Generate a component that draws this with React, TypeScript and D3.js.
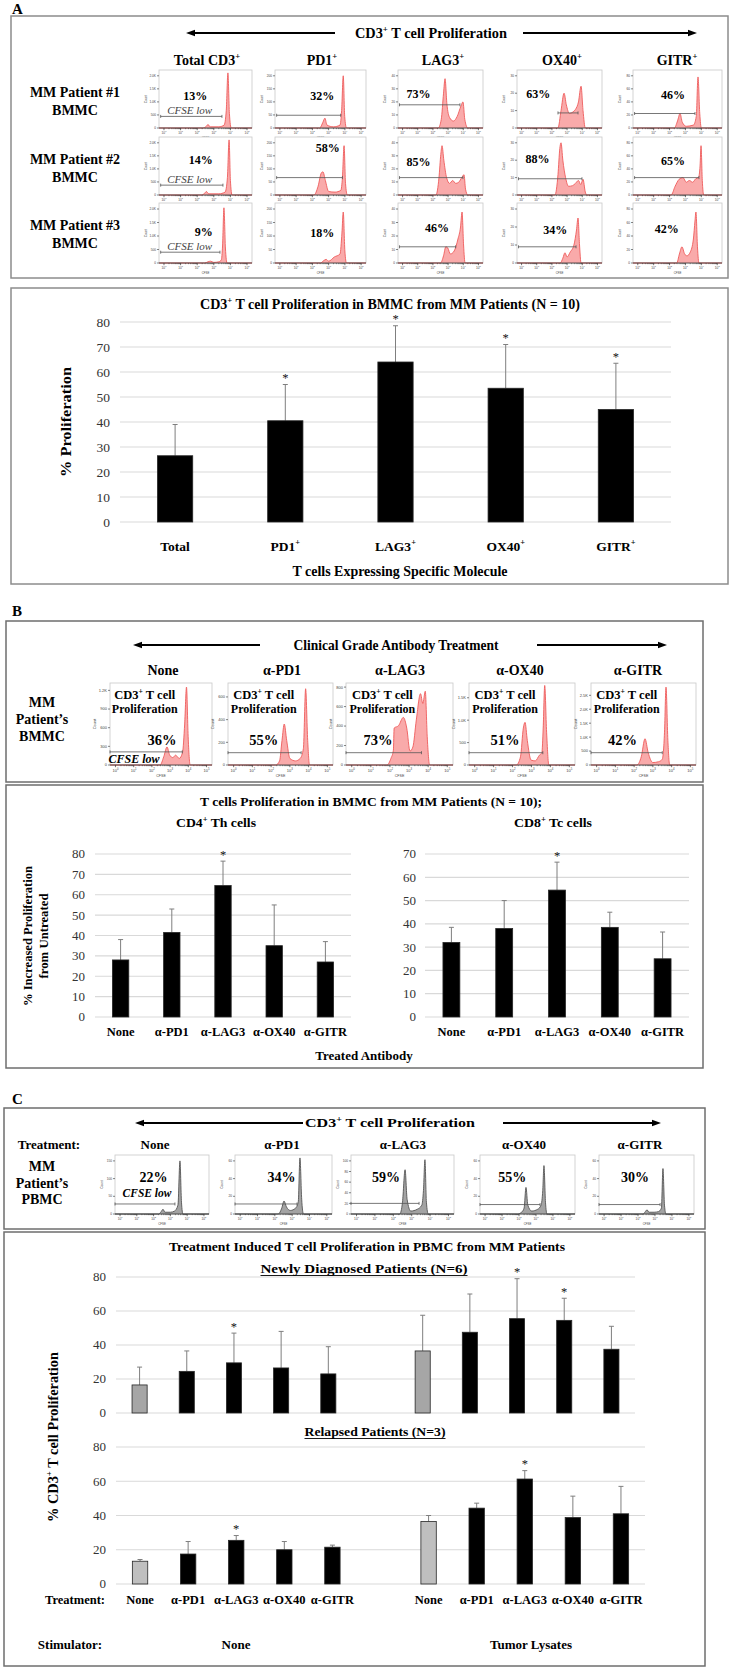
import React from 'react';
import * as d3 from 'd3';

const SERIF = "'Liberation Serif', 'Times New Roman', Times, serif";
const SANS = "'Liberation Sans', Arial, sans-serif";

// ---------- Panel A: CFSE histograms (3 patients x 5 subsets) ----------
const A_COLS = ['Total CD3^+', 'PD1^+', 'LAG3^+', 'OX40^+', 'GITR^+'];
const A_ROWS = [['MM Patient #1', 'BMMC'], ['MM Patient #2', 'BMMC'], ['MM Patient #3', 'BMMC']];
const A_PCT = [
  ['13%', '32%', '73%', '63%', '46%'],
  ['14%', '58%', '85%', '88%', '65%'],
  ['9%', '18%', '46%', '34%', '42%'],
];
const A_YTICKS = [
  ['0', '500', '1.0K', '1.5K', '2.0K'],
  ['0', '50', '100', '150', '200'],
  ['0', '10', '20', '30', '40'],
  ['0', '10', '20', '30'],
  ['0', '20', '40', '60', '80'],
];
// outline points: [log10 CFSE, fraction of frame height]
const A_HIST = [
  [
    [[-0.3, 0], [2.35, 0], [2.55, 0.03], [2.65, 0.06], [2.78, 0.02], [3.3, 0.02], [3.62, 0.05], [3.75, 0.3], [3.85, 0.95], [3.94, 0.25], [4.05, 0], [5.3, 0]],
    [[-0.3, 0], [2.45, 0], [2.65, 0.1], [2.77, 0.17], [2.9, 0.05], [3.3, 0.02], [3.7, 0.05], [3.8, 0.3], [3.9, 0.9], [3.99, 0.2], [4.1, 0], [5.3, 0]],
    [[-0.3, 0], [2.35, 0], [2.55, 0.15], [2.7, 0.6], [2.8, 0.85], [2.92, 0.42], [3.1, 0.18], [3.35, 0.12], [3.6, 0.2], [3.85, 0.38], [3.98, 0.45], [4.1, 0.15], [4.3, 0], [5.3, 0]],
    [[-0.3, 0], [2.4, 0], [2.6, 0.3], [2.8, 0.6], [2.95, 0.4], [3.15, 0.25], [3.4, 0.28], [3.55, 0.32], [3.75, 0.45], [3.92, 0.72], [4.05, 0.3], [4.2, 0], [5.3, 0]],
    [[-0.3, 0], [2.3, 0], [2.5, 0.12], [2.66, 0.25], [2.8, 0.1], [3.05, 0.03], [3.5, 0.05], [3.68, 0.2], [3.79, 0.88], [3.9, 0.25], [4.0, 0], [5.3, 0]],
  ],
  [
    [[-0.3, 0], [2.25, 0], [2.45, 0.03], [2.55, 0.06], [2.7, 0.02], [3.3, 0.02], [3.68, 0.05], [3.82, 0.3], [3.92, 0.95], [4.0, 0.25], [4.1, 0], [5.3, 0]],
    [[-0.3, 0], [2.1, 0], [2.35, 0.15], [2.55, 0.38], [2.65, 0.4], [2.8, 0.25], [3.0, 0.06], [3.4, 0.05], [3.75, 0.08], [3.85, 0.3], [3.95, 0.85], [4.04, 0.2], [4.15, 0], [5.3, 0]],
    [[-0.3, 0], [2.2, 0], [2.4, 0.3], [2.52, 0.7], [2.6, 0.85], [2.72, 0.6], [2.9, 0.3], [3.1, 0.2], [3.3, 0.25], [3.5, 0.2], [3.7, 0.22], [3.9, 0.3], [4.05, 0.35], [4.15, 0.1], [4.3, 0], [5.3, 0]],
    [[-0.3, 0], [2.2, 0], [2.4, 0.35], [2.52, 0.8], [2.6, 0.9], [2.72, 0.6], [2.9, 0.3], [3.1, 0.15], [3.35, 0.16], [3.55, 0.2], [3.75, 0.25], [3.9, 0.18], [4.05, 0.27], [4.2, 0.05], [4.3, 0], [5.3, 0]],
    [[-0.3, 0], [2.1, 0], [2.35, 0.15], [2.6, 0.27], [2.85, 0.3], [3.05, 0.22], [3.25, 0.25], [3.45, 0.22], [3.65, 0.28], [3.82, 0.3], [3.92, 0.5], [3.98, 0.85], [4.06, 0.25], [4.15, 0], [5.3, 0]],
  ],
  [
    [[-0.3, 0], [2.45, 0], [2.65, 0.02], [2.8, 0.03], [3.0, 0.01], [3.3, 0.02], [3.45, 0.05], [3.53, 0.3], [3.61, 0.92], [3.7, 0.25], [3.8, 0], [5.3, 0]],
    [[-0.3, 0], [2.5, 0], [2.7, 0.04], [2.85, 0.06], [3.0, 0.03], [3.35, 0.1], [3.7, 0.15], [3.82, 0.5], [3.9, 0.85], [4.0, 0.2], [4.1, 0], [5.3, 0]],
    [[-0.3, 0], [2.5, 0], [2.7, 0.12], [2.85, 0.27], [2.98, 0.25], [3.15, 0.15], [3.4, 0.2], [3.65, 0.4], [3.82, 0.6], [3.92, 0.85], [4.02, 0.3], [4.12, 0], [5.3, 0]],
    [[-0.3, 0], [2.55, 0], [2.72, 0.08], [2.86, 0.17], [3.0, 0.1], [3.2, 0.18], [3.45, 0.3], [3.62, 0.55], [3.72, 0.75], [3.82, 0.3], [3.92, 0], [5.3, 0]],
    [[-0.3, 0], [2.45, 0], [2.62, 0.15], [2.78, 0.27], [2.95, 0.15], [3.1, 0.12], [3.3, 0.18], [3.5, 0.4], [3.6, 0.7], [3.66, 0.85], [3.76, 0.25], [3.85, 0], [5.3, 0]],
  ],
];
// gate: [from, to, height]
const A_GATE = [
  [[-0.2, 3.49, 0.2], [-0.2, 3.74, 0.22], [-0.2, 3.78, 0.4], [2.4, 3.72, 0.26], [-0.2, 3.6, 0.25]],
  [[-0.2, 3.55, 0.17], [-0.2, 3.85, 0.3], [-0.2, 3.98, 0.3], [-0.2, 3.98, 0.28], [-0.2, 3.85, 0.3]],
  [[-0.2, 3.37, 0.18], null, [-0.2, 3.5, 0.27], [-0.2, 3.59, 0.27], null],
];

// ---------- Panel A: bar chart ----------
const A_BAR_CATS = ['Total', 'PD1^+', 'LAG3^+', 'OX40^+', 'GITR^+'];
const A_BAR_MEAN = [26.5, 40.5, 64, 53.5, 45];
const A_BAR_ERR = [39, 55, 78.5, 71, 63.5];
const A_BAR_STAR = [false, true, true, true, true];

// ---------- Panel B ----------
const B_TREAT = ['None', 'α-PD1', 'α-LAG3', 'α-OX40', 'α-GITR'];
const B_PCT = ['36%', '55%', '73%', '51%', '42%'];
const B_YTICKS = [
  ['0', '300', '600', '900', '1.2K'],
  ['0', '200', '400', '600'],
  ['0', '200', '400', '600', '800'],
  ['0', '500', '1.0K', '1.5K'],
  ['0', '500', '1.0K', '1.5K', '2.0K', '2.5K'],
];
const B_YTOP = [0.91, 0.83, 0.95, 0.82, 0.85];
const B_HIST = [
  [[-0.3, 0], [2.45, 0], [2.65, 0.1], [2.83, 0.22], [2.98, 0.12], [3.15, 0.09], [3.3, 0.12], [3.5, 0.08], [3.68, 0.15], [3.8, 0.5], [3.9, 0.95], [3.99, 0.35], [4.1, 0], [5.3, 0]],
  [[-0.3, 0], [2.25, 0], [2.45, 0.05], [2.58, 0.3], [2.7, 0.5], [2.83, 0.3], [3.0, 0.08], [3.3, 0.05], [3.55, 0.08], [3.72, 0.2], [3.84, 0.93], [3.95, 0.3], [4.05, 0], [5.3, 0]],
  [[-0.3, 0], [1.85, 0], [2.05, 0.08], [2.18, 0.18], [2.22, 0.45], [2.45, 0.48], [2.7, 0.58], [2.88, 0.45], [3.05, 0.17], [3.2, 0.22], [3.38, 0.55], [3.6, 0.87], [3.72, 0.75], [3.85, 0.9], [3.95, 0.35], [4.08, 0], [5.3, 0]],
  [[-0.3, 0], [2.2, 0], [2.42, 0.1], [2.57, 0.45], [2.66, 0.52], [2.78, 0.3], [2.98, 0.06], [3.2, 0.05], [3.42, 0.12], [3.55, 0.15], [3.62, 0.45], [3.7, 0.97], [3.8, 0.4], [3.92, 0], [5.3, 0]],
  [[-0.3, 0], [2.15, 0], [2.38, 0.1], [2.58, 0.32], [2.75, 0.15], [3.0, 0.03], [3.3, 0.04], [3.5, 0.07], [3.62, 0.4], [3.7, 0.95], [3.8, 0.3], [3.9, 0], [5.3, 0]],
];
const B_GATE = [[-0.3, 3.67, 0.16], [-0.3, 3.6, 0.15], [-0.3, 3.65, 0.15], [-0.3, 3.6, 0.15], [-0.3, 3.5, 0.15]];
const B_CD4_MEAN = [28, 41.5, 64.5, 35, 27];
const B_CD4_ERR = [38, 53, 76.5, 55, 37];
const B_CD4_STAR = [false, false, true, false, false];
const B_CD8_MEAN = [32, 38, 54.5, 38.5, 25];
const B_CD8_ERR = [38.5, 50, 66.5, 45, 36.5];
const B_CD8_STAR = [false, false, true, false, false];

// ---------- Panel C ----------
const C_TREAT = ['None', 'α-PD1', 'α-LAG3', 'α-OX40', 'α-GITR'];
const C_PCT = ['22%', '34%', '59%', '55%', '30%'];
const C_YTICKS = [
  ['0', '50', '100', '150'],
  ['0', '20', '40', '60'],
  ['0', '20', '40', '60', '80', '100'],
  ['0', '20', '40', '60'],
  ['0', '20', '40', '60'],
];
const C_HIST = [
  [[-0.3, 0], [2.3, 0], [2.45, 0.04], [2.56, 0.08], [2.68, 0.03], [3.0, 0.03], [3.25, 0.05], [3.45, 0.15], [3.57, 0.9], [3.66, 0.2], [3.75, 0], [5.3, 0]],
  [[-0.3, 0], [2.2, 0], [2.4, 0.1], [2.53, 0.22], [2.67, 0.12], [2.9, 0.06], [3.2, 0.1], [3.35, 0.2], [3.45, 0.95], [3.55, 0.25], [3.65, 0], [5.3, 0]],
  [[-0.3, 0], [2.35, 0], [2.5, 0.2], [2.64, 0.75], [2.75, 0.25], [2.95, 0.05], [3.3, 0.08], [3.55, 0.15], [3.64, 0.4], [3.72, 0.92], [3.8, 0.2], [3.9, 0], [5.3, 0]],
  [[-0.3, 0], [1.9, 0], [2.15, 0.03], [2.3, 0.1], [2.41, 0.45], [2.52, 0.15], [2.75, 0.05], [3.1, 0.08], [3.3, 0.15], [3.4, 0.4], [3.47, 0.82], [3.56, 0.2], [3.65, 0], [5.3, 0]],
  [[-0.3, 0], [2.3, 0], [2.43, 0.04], [2.53, 0.07], [2.65, 0.03], [2.95, 0.03], [3.2, 0.04], [3.38, 0.1], [3.47, 0.77], [3.56, 0.15], [3.65, 0], [5.3, 0]],
];
const C_GATE = [[-0.3, 3.27, 0.17], [-0.3, 3.28, 0.17], [-0.3, 3.4, 0.18], [-0.3, 3.24, 0.16], [-0.3, 3.3, 0.16]];
const C_STIM = ['None', 'Tumor Lysates'];
// first five: no stimulator, last five: tumor lysates
const C_NEW_MEAN = [16.5, 24.5, 29.5, 26.5, 23, 36.5, 47.5, 55.5, 54.5, 37.5];
const C_NEW_ERR = [27, 36.5, 47, 48, 39, 57.5, 70, 79, 67.5, 51];
const C_NEW_STAR = [false, false, true, false, false, false, false, true, true, false];
const C_REL_MEAN = [13.3, 17.5, 25.5, 20, 21.5, 36.5, 44.3, 61.3, 38.8, 41];
const C_REL_ERR = [14.3, 24.8, 28.3, 24.8, 22.7, 40, 47.2, 66.2, 51.3, 57];
const C_REL_STAR = [false, false, true, false, false, false, false, true, false, false];

// text with ^x superscripts
function rich(s: string, fs: number) {
  const parts = s.split(/\^(.)/);
  const out: any[] = [];
  let up = false;
  parts.forEach((p, i) => {
    if (p === '') return;
    if (i % 2 === 1) {
      out.push(<tspan key={i} dy={-fs * 0.42} fontSize={fs * 0.62}>{p}</tspan>);
      up = true;
    } else {
      out.push(<tspan key={i} dy={up ? fs * 0.42 : 0}>{p}</tspan>);
      up = false;
    }
  });
  return out;
}

function T({ x, y, s, fs = 13, w = 'bold', anchor = 'middle', len, italic, fill = '#000', rot, under }: any) {
  const props: any = { fontFamily: SERIF, fontSize: fs, fontWeight: w, textAnchor: anchor, fill };
  if (italic) props.fontStyle = 'italic';
  if (len) {
    props.textLength = len;
    props.lengthAdjust = 'spacingAndGlyphs';
  }
  if (rot) {
    return (
      <text transform={`translate(${x + fs * 0.34},${y}) rotate(-90)`} {...props}>
        {rich(s, fs)}
      </text>
    );
  }
  return (
    <g>
      <text x={x} y={y + fs * 0.34} {...props}>{rich(s, fs)}</text>
      {under ? <line x1={x - under / 2} x2={x + under / 2} y1={y + fs * 0.5} y2={y + fs * 0.5} stroke={fill} strokeWidth={0.9} /> : null}
    </g>
  );
}

function Arrow({ x1, x2, y }: any) {
  const d = x2 > x1 ? 1 : -1;
  return (
    <g>
      <line x1={x1} x2={x2 - d * 6} y1={y} y2={y} stroke="#000" strokeWidth={1.8} />
      <path d={`M${x2},${y}L${x2 - d * 9},${y - 3.2}L${x2 - d * 9},${y + 3.2}Z`} fill="#000" />
    </g>
  );
}

function Hist({ fx, fy, pts, gate, fill, stroke, yTicks, yTop = 0.9, tfs }: any) {
  const [x0, x1] = fx;
  const [y0, y1] = fy;
  const x = d3.scaleLinear().domain([-0.3, 5.3]).range([x0, x1]);
  const y = d3.scaleLinear().domain([0, 1]).range([y1, y0]);
  const area = d3.area<number[]>().x((d) => x(d[0])).y0(y1).y1((d) => y(d[1])).curve(d3.curveMonotoneX);
  const outline = d3.line<number[]>().x((d) => x(d[0])).y((d) => y(d[1])).curve(d3.curveMonotoneX);
  const minor = d3.range(0, 5).flatMap((k) => d3.range(2, 10).map((m) => k + Math.log10(m)));
  return (
    <g>
      <rect x={x0} y={y0} width={x1 - x0} height={y1 - y0} fill="#fff" stroke="#c8c8c8" strokeWidth={0.8} />
      <path d={area(pts) || ''} fill={fill} />
      <path d={outline(pts) || ''} fill="none" stroke={stroke} strokeWidth={0.9} />
      {gate ? (
        <g stroke="#555" strokeWidth={0.8}>
          <line x1={x(gate[0])} x2={x(gate[1])} y1={y(gate[2])} y2={y(gate[2])} />
          <line x1={x(gate[0])} x2={x(gate[0])} y1={y(gate[2]) - 1.5} y2={y(gate[2]) + 1.5} />
          <line x1={x(gate[1])} x2={x(gate[1])} y1={y(gate[2]) - 1.5} y2={y(gate[2]) + 1.5} />
        </g>
      ) : null}
      <line x1={x0} x2={x1} y1={y1} y2={y1} stroke="#333" strokeWidth={0.8} />
      {d3.range(6).map((k) => (
        <line key={'M' + k} x1={x(k)} x2={x(k)} y1={y1} y2={y1 + 2.2} stroke="#333" strokeWidth={0.7} />
      ))}
      {minor.map((v, i) => (
        <line key={'m' + i} x1={x(v)} x2={x(v)} y1={y1} y2={y1 + 1.2} stroke="#333" strokeWidth={0.5} />
      ))}
      {d3.range(6).map((k) => (
        <text key={'t' + k} x={x(k)} y={y1 + 2.5 + tfs} fontSize={tfs} textAnchor="middle" fontFamily={SANS} fill="#444">
          10<tspan dy={-tfs * 0.4} fontSize={tfs * 0.7}>{k}</tspan>
        </text>
      ))}
      <text x={(x0 + x1) / 2} y={y1 + 3.5 + tfs * 2.2} fontSize={tfs * 0.9} textAnchor="middle" fontFamily={SANS} fill="#444">CFSE</text>
      {yTicks.map((t: string, i: number) => {
        const v = (yTop * i) / (yTicks.length - 1);
        return (
          <g key={'y' + i}>
            <line x1={x0 - 2} x2={x0} y1={y(v)} y2={y(v)} stroke="#333" strokeWidth={0.6} />
            <text x={x0 - 3} y={y(v) + tfs * 0.35} fontSize={tfs} textAnchor="end" fontFamily={SANS} fill="#444">{t}</text>
          </g>
        );
      })}
      <text transform={`translate(${x0 - tfs * 3.6},${(y0 + y1) / 2}) rotate(-90)`} fontSize={tfs} textAnchor="middle" fontFamily={SANS} fill="#444">Count</text>
    </g>
  );
}

function BarChart({ x0, x1, yZero, yTop, max, step, nSlots, slotOf, mean, err, star, fill, labelX, fs = 13 }: any) {
  const x = d3.scaleBand<number>().domain(d3.range(nSlots)).range([x0, x1]).paddingInner(0.68).paddingOuter(0.34);
  const y = d3.scaleLinear().domain([0, max]).range([yZero, yTop]);
  const ticks = d3.range(0, max + 1e-6, step);
  return (
    <g>
      {ticks.map((t) => (
        <g key={t}>
          <line x1={x0} x2={x1} y1={y(t)} y2={y(t)} stroke="#d9d9d9" strokeWidth={1.2} />
          <text x={labelX} y={y(t) + fs * 0.34} textAnchor="end" fontFamily={SERIF} fontSize={fs} fill="#333">{t}</text>
        </g>
      ))}
      {mean.map((m: number, i: number) => {
        const bx = x(slotOf(i)) as number;
        const bw = x.bandwidth();
        const cx = bx + bw / 2;
        const ey = y(err[i]);
        return (
          <g key={i}>
            <line x1={cx} x2={cx} y1={y(m)} y2={ey} stroke="#7f7f7f" strokeWidth={1} />
            <line x1={cx - 2.5} x2={cx + 2.5} y1={ey} y2={ey} stroke="#7f7f7f" strokeWidth={1} />
            <rect x={bx} y={y(m)} width={bw} height={yZero - y(m)} fill={fill(i)} stroke="#262626" strokeWidth={0.8} />
            {star[i] ? (
              <text x={cx} y={ey - 2.5} textAnchor="middle" fontFamily={SERIF} fontSize={12.5} fill="#111">*</text>
            ) : null}
          </g>
        );
      })}
    </g>
  );
}

function bandCenters(x0: number, x1: number, n: number) {
  const x = d3.scaleBand<number>().domain(d3.range(n)).range([x0, x1]);
  return d3.range(n).map((i) => (x(i) as number) + x.bandwidth() / 2);
}

export default function App() {
  const pink = '#f9aaaa';
  const red = '#ee5b5b';
  const A_FX = [[159, 252], [275, 366], [398, 483], [517, 602], [633, 722]];
  const A_FY = [[70, 128], [137, 195], [203, 263]];
  const A_PCT_POS = [
    [[0.39, 0.45], [0.52, 0.45], [0.24, 0.41], [0.25, 0.41], [0.45, 0.43]],
    [[0.45, 0.4], [0.58, 0.19], [0.24, 0.43], [0.24, 0.38], [0.45, 0.41]],
    [[0.48, 0.48], [0.52, 0.5], [0.46, 0.42], [0.45, 0.45], [0.38, 0.43]],
  ];
  const A_HEAD_X = [207, 322, 443, 562, 677];
  const B_FX = [[110, 212], [228, 333], [346, 453], [469, 575], [591, 696]];
  const B_FY = [683, 765];
  const B_PCT_X = [0.51, 0.34, 0.3, 0.34, 0.3];
  const B_HEAD_X = [163, 282, 400, 520, 638];
  const C_FX = [[115, 209], [235, 332], [351, 454], [480, 575], [599, 694]];
  const C_FY = [1155, 1214];
  const C_PCT_X = [0.41, 0.48, 0.34, 0.34, 0.38];
  const C_HEAD_X = [155, 282, 403, 524, 640];

  const aCenters = bandCenters(120, 671, 5);
  const cd4Centers = bandCenters(95, 351, 5);
  const cd8Centers = bandCenters(425, 689, 5);
  const relCenters = bandCenters(116, 645, 11);
  const cSlot = (i: number) => (i < 5 ? i : i + 1);

  return (
    <svg width={730} height={1669} style={{ position: 'absolute', left: 0, top: 0, background: '#fff' }}>
      <rect width={730} height={1669} fill="#fff" />

      {/* ===== Panel A ===== */}
      <T x={12} y={9} s="A" fs={15} anchor="start" />
      <rect x={11} y={16} width={717} height={262} fill="none" stroke="#8c8c8c" strokeWidth={1.5} />
      <Arrow x1={335} x2={186} y={33} />
      <Arrow x1={523} x2={697} y={33} />
      <T x={431} y={33} s="CD3^+ T cell Proliferation" fs={14} len={152} />
      {A_COLS.map((c, j) => (
        <T key={c} x={A_HEAD_X[j]} y={60} s={c} fs={14} />
      ))}
      {A_ROWS.map((r, i) => (
        <g key={i}>
          <T x={75} y={A_FY[i][0] + 22} s={r[0]} fs={14} />
          <T x={75} y={A_FY[i][0] + 40} s={r[1]} fs={14} />
        </g>
      ))}
      {A_HIST.map((row, i) =>
        row.map((pts, j) => {
          const [x0, x1] = A_FX[j];
          const [y0, y1] = A_FY[i];
          const g = A_GATE[i][j];
          return (
            <g key={`a${i}${j}`}>
              <Hist fx={A_FX[j]} fy={A_FY[i]} pts={pts} gate={g} fill={pink} stroke={red} yTicks={A_YTICKS[j]} tfs={3.2} />
              <T x={x0 + A_PCT_POS[i][j][0] * (x1 - x0)} y={y0 + A_PCT_POS[i][j][1] * (y1 - y0)} s={A_PCT[i][j]} fs={12} />
              {j === 0 ? (
                <T x={x0 + 0.33 * (x1 - x0)} y={y1 - (g ? g[2] : 0.2) * (y1 - y0) - 6} s="CFSE low" fs={11} w="normal" italic fill="#444" />
              ) : null}
            </g>
          );
        })
      )}

      {/* ===== Panel A bar chart ===== */}
      <rect x={11} y={288} width={717} height={296} fill="none" stroke="#8c8c8c" strokeWidth={1.5} />
      <T x={390} y={304} s="CD3^+ T cell Proliferation in BMMC from MM Patients (N = 10)" fs={14} len={380} />
      <BarChart
        x0={120} x1={671} yZero={522} yTop={322} max={80} step={10} nSlots={5}
        slotOf={(i: number) => i} mean={A_BAR_MEAN} err={A_BAR_ERR} star={A_BAR_STAR}
        fill={() => '#000'} labelX={110} fs={13.5}
      />
      {A_BAR_CATS.map((c, i) => (
        <T key={c} x={aCenters[i]} y={546} s={c} fs={13.5} />
      ))}
      <T x={400} y={571} s="T cells Expressing Specific Molecule" fs={14} len={215} />
      <T x={66} y={422} s="% Proliferation" fs={15} rot len={110} />

      {/* ===== Panel B ===== */}
      <T x={12} y={611} s="B" fs={15} anchor="start" />
      <rect x={6} y={621} width={697} height={161} fill="none" stroke="#6e6e6e" strokeWidth={1.5} />
      <Arrow x1={260} x2={133} y={645} />
      <Arrow x1={537} x2={667} y={645} />
      <T x={396} y={645} s="Clinical Grade Antibody Treatment" fs={14} len={205} />
      {B_TREAT.map((c, j) => (
        <T key={c} x={B_HEAD_X[j]} y={670} s={c} fs={14} />
      ))}
      <T x={42} y={702} s="MM" fs={14} />
      <T x={42} y={719} s="Patient’s" fs={14} />
      <T x={42} y={736} s="BMMC" fs={14} />
      {B_HIST.map((pts, j) => {
        const [x0, x1] = B_FX[j];
        const w = x1 - x0;
        return (
          <g key={`b${j}`}>
            <Hist fx={B_FX[j]} fy={B_FY} pts={pts} gate={B_GATE[j]} fill={pink} stroke={red} yTicks={B_YTICKS[j]} yTop={B_YTOP[j]} tfs={4} />
            <T x={x0 + 0.34 * w} y={695} s="CD3^+ T cell" fs={12.5} />
            <T x={x0 + 0.34 * w} y={709} s="Proliferation" fs={12} />
            <T x={x0 + B_PCT_X[j] * w} y={740} s={B_PCT[j]} fs={14.5} />
          </g>
        );
      })}
      <T x={134} y={759} s="CFSE low" fs={12} italic />

      {/* ===== Panel B bar charts ===== */}
      <rect x={6} y={785} width={697} height={283} fill="none" stroke="#6e6e6e" strokeWidth={1.5} />
      <T x={371} y={802} s="T cells Proliferation in BMMC from MM Patients (N = 10);" fs={13} len={342} />
      <T x={216} y={823} s="CD4^+ Th cells" fs={13} len={80} />
      <T x={553} y={823} s="CD8^+ Tc cells" fs={13} len={78} />
      <BarChart
        x0={95} x1={351} yZero={1017} yTop={854} max={80} step={10} nSlots={5}
        slotOf={(i: number) => i} mean={B_CD4_MEAN} err={B_CD4_ERR} star={B_CD4_STAR}
        fill={() => '#000'} labelX={85} fs={13}
      />
      <BarChart
        x0={425} x1={689} yZero={1017} yTop={854} max={70} step={10} nSlots={5}
        slotOf={(i: number) => i} mean={B_CD8_MEAN} err={B_CD8_ERR} star={B_CD8_STAR}
        fill={() => '#000'} labelX={416} fs={13}
      />
      {B_TREAT.map((c, i) => (
        <g key={c}>
          <T x={cd4Centers[i]} y={1032} s={c} fs={12.5} />
          <T x={cd8Centers[i]} y={1032} s={c} fs={12.5} />
        </g>
      ))}
      <T x={364} y={1056} s="Treated Antibody" fs={13} />
      <T x={28} y={936} s="% Increased  Proliferation" fs={13} rot len={140} />
      <T x={44} y={936} s="from Untreated" fs={13} rot len={85} />

      {/* ===== Panel C ===== */}
      <T x={12} y={1099} s="C" fs={15} anchor="start" />
      <rect x={4} y={1108} width={701} height={121} fill="none" stroke="#6e6e6e" strokeWidth={1.5} />
      <Arrow x1={303} x2={135} y={1123} />
      <Arrow x1={503} x2={661} y={1123} />
      <T x={390} y={1123} s="CD3^+ T cell Proliferation" fs={13} len={170} />
      <T x={49} y={1145} s="Treatment:" fs={13} />
      {C_TREAT.map((c, j) => (
        <T key={c} x={C_HEAD_X[j]} y={1145} s={c} fs={13} />
      ))}
      <T x={42} y={1166} s="MM" fs={14} />
      <T x={42} y={1183} s="Patient’s" fs={14} />
      <T x={42} y={1199} s="PBMC" fs={14} />
      {C_HIST.map((pts, j) => {
        const [x0, x1] = C_FX[j];
        return (
          <g key={`c${j}`}>
            <Hist fx={C_FX[j]} fy={C_FY} pts={pts} gate={C_GATE[j]} fill="#a3a3a3" stroke="#555" yTicks={C_YTICKS[j]} tfs={3.2} />
            <T x={x0 + C_PCT_X[j] * (x1 - x0)} y={1177} s={C_PCT[j]} fs={14} />
          </g>
        );
      })}
      <T x={147} y={1193} s="CFSE low" fs={11.5} italic />

      {/* ===== Panel C bar charts ===== */}
      <rect x={4} y={1232} width={701} height={434} fill="none" stroke="#6e6e6e" strokeWidth={1.5} />
      <T x={367} y={1247} s="Treatment Induced T cell Proliferation in PBMC from MM Patients" fs={13} len={396} />
      <T x={364} y={1269} s="Newly Diagnosed Patients (N=6)" fs={13} len={207} under={207} />
      <BarChart
        x0={116} x1={635} yZero={1413} yTop={1277} max={80} step={20} nSlots={11}
        slotOf={cSlot} mean={C_NEW_MEAN} err={C_NEW_ERR} star={C_NEW_STAR}
        fill={(i: number) => (i % 5 === 0 ? '#a6a6a6' : '#000')} labelX={106} fs={13}
      />
      <T x={375} y={1432} s="Relapsed Patients (N=3)" fs={13} len={141} under={141} />
      <BarChart
        x0={116} x1={645} yZero={1584} yTop={1447} max={80} step={20} nSlots={11}
        slotOf={cSlot} mean={C_REL_MEAN} err={C_REL_ERR} star={C_REL_STAR}
        fill={(i: number) => (i % 5 === 0 ? '#bfbfbf' : '#000')} labelX={106} fs={13}
      />
      <T x={75} y={1600} s="Treatment:" fs={12.5} />
      {C_REL_MEAN.map((_, i) => (
        <T key={i} x={relCenters[cSlot(i)]} y={1600} s={C_TREAT[i % 5]} fs={12.5} />
      ))}
      <T x={70} y={1645} s="Stimulator:" fs={13} />
      <T x={236} y={1645} s={C_STIM[0]} fs={13} />
      <T x={531} y={1645} s={C_STIM[1]} fs={13} />
      <T x={53} y={1437} s="% CD3^+ T cell Proliferation" fs={14} rot len={170} />
    </svg>
  );
}
